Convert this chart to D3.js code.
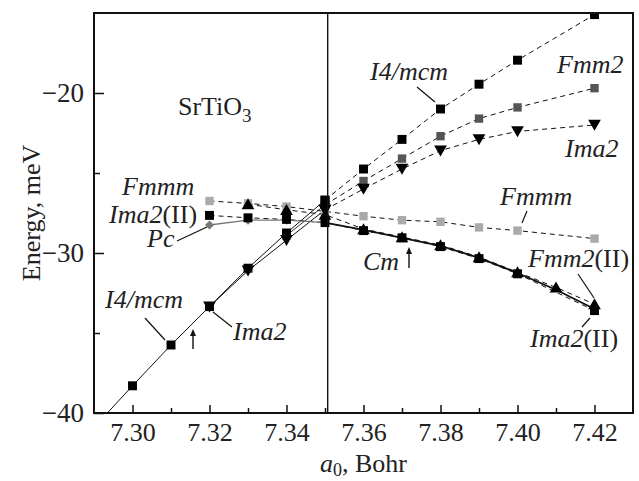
<!DOCTYPE html>
<html>
<head>
<meta charset="utf-8">
<script src="https://cdn.jsdelivr.net/npm/d3@7"></script>
<style>
  body { margin: 0; background: #fff; }
  text { font-family: "Liberation Serif", "DejaVu Serif", serif; fill: #222; }
</style>
</head>
<body>
<svg id="chart" width="639" height="481"></svg>
<script>
// ---- data (a0 in Bohr, energy in meV) ----
let xTicks = [7.30, 7.32, 7.34, 7.36, 7.38, 7.40, 7.42]
let xMinor = [7.31, 7.33, 7.35, 7.37, 7.39, 7.41]
let yTicks = [-40, -30, -20]
let yMinor = [-35, -25]
let transitionA = 7.3507

// I4/mcm, lower branch (solid) and upper branch (dashed)
let i4mcmLowA = [7.29, 7.30, 7.31, 7.32, 7.33, 7.34, 7.35]
let i4mcmLowE = [-40.9, -38.3, -35.75, -33.35, -30.95, -28.75, -26.7]
let i4mcmHighA = [7.35, 7.36, 7.37, 7.38, 7.39, 7.40, 7.42]
let i4mcmHighE = [-26.7, -24.75, -22.9, -21.0, -19.45, -17.95, -15.1]

// Ima2
let ima2LowA = [7.32, 7.33, 7.34, 7.35]
let ima2LowE = [-33.35, -31.1, -29.2, -27.3]
let ima2HighA = [7.35, 7.36, 7.37, 7.38, 7.39, 7.40, 7.42]
let ima2HighE = [-27.3, -26.0, -24.75, -23.6, -22.9, -22.4, -22.0]

// Fmm2
let fmm2LowA = [7.34, 7.35]
let fmm2LowE = [-28.9, -27.0]
let fmm2HighA = [7.35, 7.36, 7.37, 7.38, 7.39, 7.40, 7.42]
let fmm2HighE = [-27.0, -25.5, -24.1, -22.7, -21.6, -20.9, -19.7]

// Fmmm
let fmmmA = [7.32, 7.33, 7.34, 7.35, 7.36, 7.37, 7.38, 7.39, 7.40, 7.42]
let fmmmE = [-26.75, -26.9, -27.1, -27.4, -27.7, -27.95, -28.05, -28.4, -28.6, -29.1]

// Fmm2(II)
let fmm2IIA = [7.33, 7.34, 7.35, 7.36, 7.37, 7.38, 7.39, 7.40, 7.41, 7.42]
let fmm2IIE = [-26.95, -27.3, -27.6, -28.5, -29.0, -29.5, -30.25, -31.2, -32.15, -33.2]

// Ima2(II)
let ima2IIA = [7.32, 7.33, 7.34, 7.35, 7.36, 7.37, 7.38, 7.39, 7.40, 7.42]
let ima2IIE = [-27.65, -27.8, -27.9, -28.1, -28.6, -29.05, -29.6, -30.35, -31.3, -33.6]

// Pc
let pcA = [7.32, 7.33, 7.34, 7.35]
let pcE = [-28.25, -27.95, -27.95, -28.1]

// Cm (line only)
let cmA = [7.35, 7.36, 7.37, 7.38, 7.39, 7.40, 7.41, 7.42]
let cmE = [-28.1, -28.55, -29.05, -29.55, -30.3, -31.25, -32.3, -33.5]

let width = 639
let height = 481
let margin = {left: 94, right: 6, top: 13, bottom: 68}

let svg = d3.select('#chart')

let x = d3.scaleLinear().domain([7.29, 7.43]).range([margin.left, width - margin.right])
let y = d3.scaleLinear().domain([-40, -15]).range([height - margin.bottom, margin.top])

let zip = (as, es) => as.map((a, i) => ({a: a, e: es[i]}))

svg.append('defs').append('clipPath').attr('id', 'plot')
  .append('rect')
  .attr('x', x.range()[0]).attr('y', y.range()[1])
  .attr('width', x.range()[1] - x.range()[0])
  .attr('height', y.range()[0] - y.range()[1])

let plot = svg.append('g').attr('clip-path', 'url(#plot)')

let line = d3.line().x(d => x(d.a)).y(d => y(d.e))

// lines first
let lines = [
  {d: zip(i4mcmLowA, i4mcmLowE), color: '#111', dash: null, w: 1},
  {d: zip(ima2LowA, ima2LowE), color: '#111', dash: null, w: 1},
  {d: zip(fmm2LowA, fmm2LowE), color: '#333', dash: null, w: 1},
  {d: zip(i4mcmHighA, i4mcmHighE), color: '#111', dash: '5,4', w: 1},
  {d: zip(ima2HighA, ima2HighE), color: '#111', dash: '5,4', w: 1},
  {d: zip(fmm2HighA, fmm2HighE), color: '#111', dash: '5,4', w: 1},
  {d: zip(fmmmA, fmmmE), color: '#111', dash: '5,4', w: 1},
  {d: zip(fmm2IIA, fmm2IIE), color: '#111', dash: '5,4', w: 1},
  {d: zip(ima2IIA, ima2IIE), color: '#111', dash: '5,4', w: 1},
  {d: zip(pcA, pcE), color: '#777', dash: null, w: 1.3},
  {d: zip(cmA, cmE), color: '#111', dash: null, w: 1.8}
]

lines.forEach(function (s) {
  plot.append('path')
    .attr('d', line(s.d))
    .attr('fill', 'none')
    .attr('stroke', s.color)
    .attr('stroke-width', s.w)
    .attr('stroke-dasharray', s.dash)
})

// vertical transition line
svg.append('line')
  .attr('x1', x(transitionA)).attr('x2', x(transitionA))
  .attr('y1', y.range()[1]).attr('y2', y.range()[0])
  .attr('stroke', '#111').attr('stroke-width', 1.4)

// markers
let markers = [
  {d: zip(fmmmA, fmmmE), type: 'square', size: 70, color: '#aaa'},
  {d: zip(pcA.slice(0, 3), pcE.slice(0, 3)), type: 'diamond', size: 40, color: '#777'},
  {d: zip(fmm2LowA, fmm2LowE).concat(zip(fmm2HighA, fmm2HighE)), type: 'square', size: 70, color: '#555'},
  {d: zip(ima2IIA, ima2IIE), type: 'square', size: 80, color: '#000'},
  {d: zip(fmm2IIA, fmm2IIE), type: 'up', size: 70, color: '#000'},
  {d: zip(i4mcmLowA, i4mcmLowE).concat(zip(i4mcmHighA, i4mcmHighE)), type: 'square', size: 80, color: '#000'},
  {d: zip(ima2LowA, ima2LowE).concat(zip(ima2HighA, ima2HighE)), type: 'down', size: 70, color: '#000'}
]

markers.forEach(function (m) {
  let sym = m.type === 'square' || m.type === 'diamond' ? d3.symbolSquare : d3.symbolTriangle
  let rot = m.type === 'down' ? 180 : (m.type === 'diamond' ? 45 : 0)
  let dy = m.type === 'up' ? 1.5 : (m.type === 'down' ? -1.5 : 0)
  plot.append('g')
    .selectAll('path')
    .data(m.d)
    .enter()
    .append('path')
    .attr('d', d3.symbol().type(sym).size(m.size))
    .attr('transform', d => `translate(${x(d.a)},${y(d.e) + dy}) rotate(${rot})`)
    .attr('fill', m.color)
})

// axes (ticks point inward)
let xAxis = svg.append('g')
  .attr('transform', `translate(0,${y.range()[0]})`)
  .call(d3.axisBottom(x).tickValues(xTicks).tickSize(-8).tickPadding(10).tickFormat(d3.format('.2f')))
xAxis.selectAll('text').style('font-size', '26px').attr('fill', '#222')
svg.append('g')
  .attr('transform', `translate(0,${y.range()[0]})`)
  .call(d3.axisBottom(x).tickValues(xMinor).tickSize(-5).tickFormat(''))

let yAxis = svg.append('g')
  .attr('transform', `translate(${x.range()[0]},0)`)
  .call(d3.axisLeft(y).tickValues(yTicks).tickSize(-10).tickPadding(10))
yAxis.selectAll('text').style('font-size', '27px').attr('fill', '#222')
svg.append('g')
  .attr('transform', `translate(${x.range()[0]},0)`)
  .call(d3.axisLeft(y).tickValues(yMinor).tickSize(-6).tickFormat(''))

svg.selectAll('.domain').remove()
svg.selectAll('.tick line').attr('stroke', '#111').attr('stroke-width', 1.5)

// frame
svg.append('rect')
  .attr('x', x.range()[0]).attr('y', y.range()[1])
  .attr('width', x.range()[1] - x.range()[0])
  .attr('height', y.range()[0] - y.range()[1])
  .attr('fill', 'none').attr('stroke', '#111').attr('stroke-width', 2)

// axis titles
let xt = svg.append('text')
  .attr('x', (x.range()[0] + x.range()[1]) / 2).attr('y', 472)
  .attr('text-anchor', 'middle').style('font-size', '26px')
xt.append('tspan').style('font-style', 'italic').text('a')
xt.append('tspan').attr('dy', 4).style('font-size', '18px').text('0')
xt.append('tspan').attr('dy', -4).text(', Bohr')

svg.append('text')
  .attr('transform', `translate(40,${(y.range()[0] + y.range()[1]) / 2}) rotate(-90)`)
  .attr('text-anchor', 'middle').style('font-size', '26px')
  .text('Energy, meV')

// annotations
let sr = svg.append('text').attr('x', 178).attr('y', 115).style('font-size', '26px')
sr.append('tspan').text('SrTiO')
sr.append('tspan').attr('dy', 7).style('font-size', '19px').text('3')

let labels = [
  {t: 'I4/mcm', x: 370, y: 80},
  {t: 'Fmm2', x: 557, y: 73},
  {t: 'Ima2', x: 565, y: 157},
  {t: 'Fmmm', x: 500, y: 205},
  {t: 'Fmm2', s: '(II)', x: 528, y: 267},
  {t: 'Ima2', s: '(II)', x: 530, y: 347},
  {t: 'Cm', x: 363, y: 270},
  {t: 'Fmmm', x: 122, y: 195},
  {t: 'Ima2', s: '(II)', x: 109, y: 223},
  {t: 'Pc', x: 147, y: 247},
  {t: 'I4/mcm', x: 105, y: 308},
  {t: 'Ima2', x: 233, y: 340}
]

labels.forEach(function (l) {
  let t = svg.append('text').attr('x', l.x).attr('y', l.y).style('font-size', '26px')
  t.append('tspan').style('font-style', 'italic').text(l.t)
  if (l.s) t.append('tspan').text(l.s)
})

let leaders = [
  [417, 87, 435, 102],
  [527, 211, 522, 223],
  [578, 274, 594, 298],
  [582, 327, 590, 318],
  [177, 241, 207, 227],
  [145, 318, 165, 340],
  [213, 312, 232, 327]
]
leaders.forEach(function (p) {
  svg.append('line')
    .attr('x1', p[0]).attr('y1', p[1]).attr('x2', p[2]).attr('y2', p[3])
    .attr('stroke', '#111').attr('stroke-width', 1.2)
})

// arrows
let arrows = [[409, 268, 247], [193, 349, 329]]
arrows.forEach(function (p) {
  svg.append('line')
    .attr('x1', p[0]).attr('y1', p[1]).attr('x2', p[0]).attr('y2', p[2] + 4)
    .attr('stroke', '#111').attr('stroke-width', 1.4)
  svg.append('path')
    .attr('d', `M${p[0] - 3},${p[2] + 7}L${p[0]},${p[2]}L${p[0] + 3},${p[2] + 7}Z`)
    .attr('fill', '#111')
})
</script>
</body>
</html>
